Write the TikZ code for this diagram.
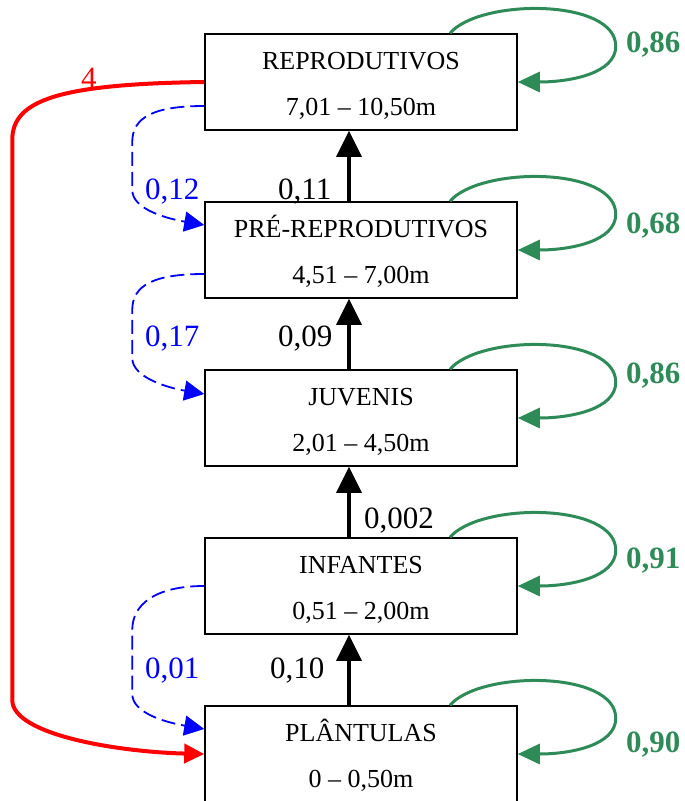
\documentclass[tikz,border=0pt]{standalone}
\usepackage{fontspec}
\setmainfont{Liberation Serif}
\usetikzlibrary{arrows.meta,calc}
\definecolor{sgreen}{RGB}{46,139,87}
\tikzset{
  box/.style={draw=black,line width=1.5pt,minimum width=312pt,minimum height=96pt,inner sep=0pt},
  boxtxt/.style={anchor=base,inner sep=0pt,font=\fontsize{26}{30}\selectfont},
  lab/.style={anchor=base west,inner sep=0pt,font=\fontsize{31}{36}\selectfont},
  glab/.style={anchor=base west,inner sep=0pt,text=sgreen,font=\fontsize{31}{36}\selectfont\bfseries},
  up/.style={line width=3.5pt,-{Triangle[length=26pt,width=25pt]}},
  selfloop/.style={draw=sgreen,line width=3pt,-{Triangle[length=22pt,width=20pt]}},
  bluearr/.style={draw=blue,line width=1.8pt,dash pattern=on 14pt off 6pt,-{Triangle[length=20pt,width=20pt]}},
  redarr/.style={draw=red,line width=4pt,-{Triangle[length=20pt,width=19pt]}}
}
\begin{document}
\begin{tikzpicture}[x=1pt,y=-1pt]
\clip (0,0) rectangle (685,801);
% boxes
\node[box] (r)  at (361,82)  {};
\node[box] (p)  at (361,250) {};
\node[box] (j)  at (361,418) {};
\node[box] (i)  at (361,586) {};
\node[box] (pl) at (361,754) {};
% box texts
\node[boxtxt] (r1)  at (361,69)  {REPRODUTIVOS};
\node[boxtxt] (r2)  at (361,115) {7,01 – 10,50m};
\node[boxtxt] (p1)  at (361,237) {PRÉ-REPRODUTIVOS};
\node[boxtxt] (p2)  at (361,283) {4,51 – 7,00m};
\node[boxtxt] (j1)  at (361,405) {JUVENIS};
\node[boxtxt] (j2)  at (361,451) {2,01 – 4,50m};
\node[boxtxt] (i1)  at (361,573) {INFANTES};
\node[boxtxt] (i2)  at (361,619) {0,51 – 2,00m};
\node[boxtxt] (pl1) at (361,741) {PLÂNTULAS};
\node[boxtxt] (pl2) at (361,787) {0 – 0,50m};
% growth arrows
\draw[up] ([xshift=-12pt]p.north) -- ([xshift=-12pt]r.south);
\draw[up] ([xshift=-12pt]j.north) -- ([xshift=-12pt]p.south);
\draw[up] ([xshift=-12pt]i.north) -- ([xshift=-12pt]j.south);
\draw[up] ([xshift=-12pt]pl.north) -- ([xshift=-12pt]i.south);
% self loops
\foreach \n in {r,p,j,i,pl}{
  \draw[selfloop] ($(\n.north)+(89,0)$) .. controls ($(\n.north)+(119,-35)$) and ($(\n.north east)+(98,-35)$) .. ($(\n.north east)+(98,13)$)
     .. controls ($(\n.north east)+(98,40)$) and ($(\n.east)+(53,0)$) .. (\n.east);
}
% regression (blue dashed)
\draw[bluearr] ($(r.west)+(0,24)$) .. controls +(-50,0) and +(0,-25) .. ($(r.west)+(-72,60)$) -- ($(p.west)+(-72,-60)$) .. controls +(0,20) and +(-35,-6) .. ($(p.west)+(0,-25)$);
\draw[bluearr] ($(p.west)+(0,24)$) .. controls +(-50,0) and +(0,-25) .. ($(p.west)+(-72,60)$) -- ($(j.west)+(-72,-60)$) .. controls +(0,20) and +(-35,-6) .. ($(j.west)+(0,-24)$);
\draw[bluearr] (i.west) .. controls +(-50,0) and +(0,-25) .. ($(i.west)+(-72,44)$) -- ($(pl.west)+(-72,-60)$) .. controls +(0,20) and +(-35,-6) .. ($(pl.west)+(0,-25)$);
% fecundity (red)
\draw[redarr] (r.west) .. controls +(-145,2) and +(0,-40) .. ($(r.west)+(-192,58)$) -- ($(pl.west)+(-192,-54)$) .. controls +(0,35) and +(-85,-2) .. (pl.west);
% labels
\node[lab,text=red] (l4) at (81,88) {4};
\node[lab,text=blue] (l012) at (145,199) {0,12};
\node[lab] (l011) at (278,199) {0,11};
\node[lab,text=blue] (l017) at (145,346) {0,17};
\node[lab] (l009) at (278,346) {0,09};
\node[lab] (l0002) at (364,528) {0,002};
\node[lab,text=blue] (l001) at (145,678) {0,01};
\node[lab] (l010) at (270,678) {0,10};
\node[glab] (g1) at (626,52)  {0,86};
\node[glab] (g2) at (626,233) {0,68};
\node[glab] (g3) at (626,383) {0,86};
\node[glab] (g4) at (626,568) {0,91};
\node[glab] (g5) at (626,752) {0,90};
\end{tikzpicture}
\end{document}
